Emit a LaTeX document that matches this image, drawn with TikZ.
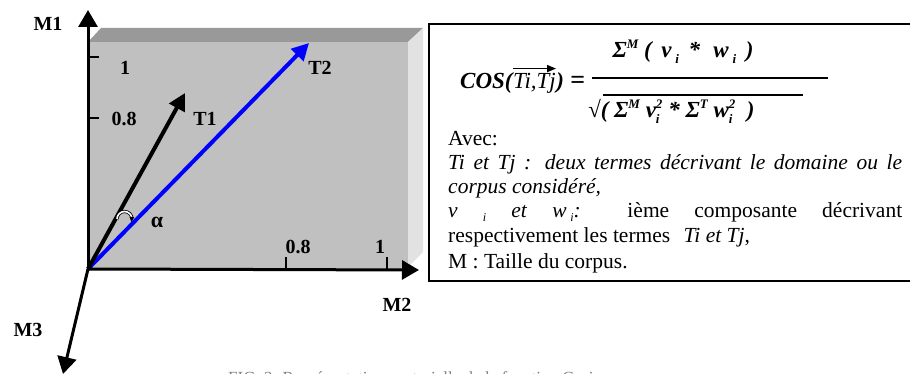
\documentclass[tikz,border=0pt]{standalone}
\usepackage{fontspec}
\setmainfont{Liberation Serif}
\usetikzlibrary{arrows.meta}
\definecolor{pfront}{HTML}{C0C0C0}
\definecolor{ptop}{HTML}{999999}
\definecolor{pside}{HTML}{E2E2E2}
\newcommand\myup[1]{\raisebox{0.42em}{\fontsize{13}{13}\selectfont #1}}
\newcommand\mydn[1]{\raisebox{-0.22em}{\fontsize{13}{13}\selectfont #1}}
\newcommand\mysupsub[2]{\rlap{\myup{#1}}\mydn{#2}\hspace{3pt}}
\newcommand\mysmalli{\raisebox{-4pt}{\fontsize{12}{12}\selectfont\itshape i}}
\begin{document}
\begin{tikzpicture}[x=1pt,y=-1pt,
  axis/.style={line width=3pt,-{Triangle[length=17pt,width=19pt]}},
  vecblack/.style={line width=4pt,-{Triangle[length=17pt,width=17pt]}},
  vecblue/.style={line width=4pt,blue,-{Triangle[length=17pt,width=17pt]}},
  tick/.style={line width=1.5pt},
  lbl/.style={font=\fontsize{20}{22}\selectfont\bfseries,inner sep=0pt},
  txt/.style={font=\fontsize{21.5}{25}\selectfont,inner sep=0pt,anchor=base west},
  frm/.style={font=\fontsize{23}{26}\selectfont\bfseries\itshape,inner sep=0pt}]
\useasboundingbox (0,0) rectangle (910,374);
\clip (0,0) rectangle (910,374);
% panel
\fill[pfront] (88,42) rectangle (408,269);
\fill[ptop] (88,42) -- (101,28) -- (423,28) -- (408,42) -- cycle;
\fill[pside] (408,42) -- (423,28) -- (423,252) -- (408,267) -- cycle;
% coordinates
\coordinate (O) at (88,269);
\coordinate (m1) at (88,10);
\coordinate (m2) at (419,270);
\coordinate (m3) at (63,374);
\coordinate (t1) at (185,93);
\coordinate (t2) at (309,43);
\coordinate (ty1) at (88,57);
\coordinate (ty1e) at (99,57);
\coordinate (ty8) at (88,118);
\coordinate (ty8e) at (99,118);
\coordinate (tx8) at (286,269);
\coordinate (tx8e) at (286,257);
\coordinate (tx1) at (387,269);
\coordinate (tx1e) at (387,257);
% vectors
\draw[vecblue] (O) -- (t2);
\draw[vecblack] (O) -- (t1);
% axes
\draw[axis] (O) -- (m1);
\draw[axis] (O) -- (m2);
\draw[axis] (O) -- (m3);
\draw[tick] (ty1) -- (ty1e);
\draw[tick] (ty8) -- (ty8e);
\draw[tick] (tx8) -- (tx8e);
\draw[tick] (tx1) -- (tx1e);
% labels
\node[lbl] (lm1) at (48,24) {M1};
\node[lbl] (lm2) at (397,305) {M2};
\node[lbl] (lm3) at (28,330) {M3};
\node[lbl] (ly1) at (125,68) {1};
\node[lbl] (ly8) at (124,119) {0.8};
\node[lbl] (lx8) at (298,247) {0.8};
\node[lbl] (lx1) at (380,247) {1};
\node[lbl] (lt1) at (205,119) {T1};
\node[lbl] (lt2) at (320,68) {T2};
\node[lbl,font=\fontsize{22}{22}\selectfont\bfseries] (lal) at (157,222) {α};
% alpha arc
\coordinate (arcs) at (117,219);
\draw[line width=0.8pt,double=white,double distance=1.6pt] (arcs) arc[start angle=180,end angle=360,radius=7.5];
\fill (129.5,217) -- (134,217) -- (131.5,222) -- cycle;
% right box
\draw[line width=1.5pt] (429,24) rectangle (915,281);
\begin{scope}
\clip (430,25) rectangle (910,272);
% formula
\node[frm,anchor=base west] (cos) at (460,89) {COS(};
\node[frm,font=\fontsize{23}{26}\selectfont\itshape,anchor=base west] (titj) at (cos.base east) {Ti,Tj};
\node[frm,anchor=base west] (par) at (titj.base east) {)};
\node[frm,font=\fontsize{26}{26}\selectfont\bfseries,anchor=base west] (eq) at ([xshift=6pt]par.base east) {=};
\draw[line width=1.5pt,-{Triangle[length=9pt,width=7pt]}] ([yshift=5pt]titj.north west) -- ([yshift=5pt]titj.north east);
\node[frm,anchor=base] (num) at (683,58) {Σ\myup{M} ( \,v\,\mydn{i} \,*\, \,w\,\mydn{i} \,)};
\coordinate (barl) at (592,78);
\coordinate (barr) at (828,78);
\draw[line width=1.5pt] (barl) -- (barr);
\node[frm,anchor=base west] (den) at (588,118) {√( Σ\myup{M} v\mysupsub{2}{i} * Σ\myup{T} w\mysupsub{2}{i} \ )};
\coordinate (ovl) at (603,95);
\coordinate (ovr) at (803,95);
\draw[line width=1.3pt] (ovl) -- (ovr);
% text
\node[txt] (l1) at (448,146) {Avec:};
\node[txt] (l2) at (448,170) {\makebox[454pt][s]{\itshape Ti et Tj : deux termes décrivant le domaine ou le}};
\node[txt] (l3) at (448,194) {\itshape corpus considéré,};
\node[txt] (l4) at (448,218) {\makebox[454pt][s]{\textit{v} \mysmalli{} \textit{et} \textit{w}\,\mysmalli\textit{:} ième composante décrivant}};
\node[txt] (l5) at (448,242) {respectivement les termes \hspace{8pt}\textit{Ti et Tj},};
\node[txt] (l6) at (448,268) {M : Taille du corpus.};
\end{scope}
% caption (cut by the page edge)
\node[font=\fontsize{17}{19}\selectfont,text=gray,inner sep=0pt,anchor=north west] (cap) at (228,371.5) {FIG. 3. Représentation vectorielle de la fonction Cosinus};
\end{tikzpicture}
\end{document}
